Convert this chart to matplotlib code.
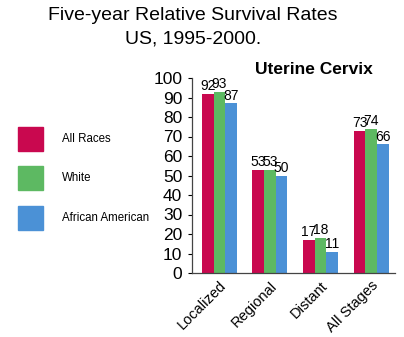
import matplotlib
matplotlib.use("Agg")
import matplotlib.pyplot as plt
from matplotlib.patches import Rectangle
import numpy as np

plt.rcParams['font.family'] = ['Liberation Sans', 'DejaVu Sans']

categories = ["Localized", "Regional", "Distant", "All Stages"]
series_names = ["All Races", "White", "African American"]
all_races = [92, 53, 17, 73]
white = [93, 53, 18, 74]
african_american = [87, 50, 11, 66]
colors = ["#C9084F", "#5DB962", "#4B91D6"]

fig = plt.figure(figsize=(4.04, 3.37), dpi=100)
ax = fig.add_axes([192/404, 1-273/337, (395-192)/404, (273-78)/337])

x = np.arange(len(categories))
w = 0.23
for i, (vals, c) in enumerate(zip([all_races, white, african_american], colors)):
    pos = x + (i - 1) * w
    ax.bar(pos, vals, width=w, color=c, edgecolor='none')
    for p, v in zip(pos, vals):
        ax.text(p, v + 0.3, str(v), ha='center', va='bottom', fontsize=10)

ax.set_xlim(-0.54, 3.47)
ax.set_ylim(0, 100)
ax.set_yticks(range(0, 101, 10))
ax.tick_params(axis='y', labelsize=12.5, length=3, width=0.8, pad=4)
ax.set_xticks(x)
ax.set_xticklabels(categories, rotation=45, ha='right', rotation_mode='anchor', fontsize=10.5)
ax.tick_params(axis='x', length=0, pad=4)
for s in ['top', 'right']:
    ax.spines[s].set_visible(False)
for s in ['left', 'bottom']:
    ax.spines[s].set_linewidth(0.9)
    ax.spines[s].set_color('#444444')

fig.text(193/404, 1-15/337, "Five-year Relative Survival Rates", ha='center', va='center', fontsize=14)
fig.text(193/404, 1-39/337, "US, 1995-2000.", ha='center', va='center', fontsize=14)
fig.text(314/404, 1-70/337, "Uterine Cervix", ha='center', va='center', fontsize=12.5, fontweight='bold')

leg_y = [139, 178, 218]
for name, c, yy in zip(series_names, colors, leg_y):
    fig.patches.append(Rectangle((18/404, 1-(yy+12)/337), 25/404, 24/337,
                                 transform=fig.transFigure, color=c))
    fig.text(62/404, 1-yy/337, name, ha='left', va='center', fontsize=8.3)

fig.savefig("out.png", dpi=100)
